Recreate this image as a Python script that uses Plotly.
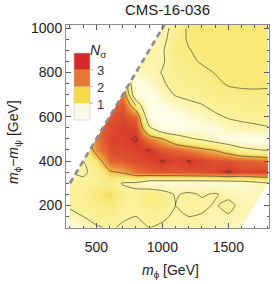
import plotly.graph_objects as go

# ---- data ----
m_phi = [300, 400, 500, 600, 700, 800, 900, 1000, 1100, 1200, 1300, 1400, 1500, 1600, 1700, 1800]
delta_m = [100, 150, 200, 250, 300, 350, 400, 450, 500, 550, 600, 650, 700, 750, 800, 850, 900, 950, 1000]

# N_sigma[row = delta_m][col = m_phi]
n_sigma = [
    [0.4, 0.6, 0.95, 1.05, 0.95, 0.85, 1.0, 0.9, 0.85, 0.95, 0.85, 0.8, 0.75, 0.7, 0.7, 0.7],
    [0.8, 1.0, 1.15, 1.25, 1.05, 1.0, 1.15, 1.1, 0.9, 1.0, 0.95, 0.85, 0.95, 0.8, 0.8, 0.8],
    [1.1, 1.2, 1.3, 1.5, 1.15, 1.05, 1.35, 1.3, 1.0, 1.05, 1.12, 0.95, 1.15, 0.85, 0.85, 0.85],
    [1.2, 1.1, 1.6, 1.75, 1.25, 1.1, 1.4, 1.25, 0.95, 1.1, 0.95, 1.05, 0.85, 0.75, 0.75, 0.75],
    [1.05, 1.15, 1.15, 1.35, 0.95, 0.9, 0.55, 0.5, 0.5, 0.5, 0.5, 0.5, 0.5, 0.6, 0.75, 0.95],
    [1.0, 0.9, 1.2, 1.9, 2.1, 2.5, 2.65, 2.7, 2.7, 2.75, 2.8, 2.85, 3.05, 2.85, 2.9, 2.9],
    [1.0, 1.0, 1.6, 2.6, 2.7, 2.8, 2.85, 3.03, 2.88, 3.02, 2.9, 2.8, 2.75, 2.65, 2.6, 2.5],
    [1.2, 1.2, 2.3, 2.8, 2.85, 2.9, 3.03, 2.75, 2.6, 2.4, 2.15, 1.95, 1.6, 1.2, 1.05, 0.95],
    [1.2, 1.2, 2.4, 2.9, 2.9, 3.04, 2.4, 2.0, 1.4, 1.1, 0.9, 0.6, 0.4, 0.3, 0.3, 0.3],
    [2.5, 2.5, 2.5, 2.8, 2.95, 2.85, 1.1, 0.3, 0.3, 0.35, 0.45, 0.5, 0.75, 0.85, 0.9, 0.97],
    [2.5, 2.5, 2.5, 2.75, 2.85, 2.6, 0.4, 0.2, 0.35, 0.55, 0.7, 0.9, 1.05, 1.12, 1.18, 1.2],
    [2.5, 2.5, 2.5, 2.6, 2.75, 1.5, 0.25, 0.4, 0.65, 0.85, 0.97, 1.15, 1.2, 1.25, 1.3, 1.3],
    [2.3, 2.3, 2.3, 2.3, 2.4, 0.5, 0.3, 0.7, 1.05, 1.15, 1.2, 1.3, 1.35, 1.4, 1.4, 1.4],
    [2.0, 2.0, 2.0, 2.0, 2.0, 0.35, 0.6, 0.95, 1.15, 1.25, 1.3, 1.4, 1.55, 1.58, 1.6, 1.58],
    [0.9, 0.9, 0.9, 0.9, 0.9, 0.65, 0.85, 1.02, 1.2, 1.3, 1.38, 1.52, 1.58, 1.6, 1.6, 1.6],
    [0.9, 0.9, 0.9, 0.9, 0.9, 0.9, 0.9, 0.95, 1.25, 1.4, 1.55, 1.58, 1.6, 1.6, 1.6, 1.6],
    [0.92, 0.92, 0.92, 0.92, 0.92, 0.92, 0.92, 0.93, 1.45, 1.48, 1.6, 1.6, 1.6, 1.6, 1.6, 1.6],
    [0.92, 0.92, 0.92, 0.92, 0.92, 0.92, 0.92, 0.85, 1.3, 1.55, 1.6, 1.6, 1.6, 1.6, 1.6, 1.6],
    [0.92, 0.92, 0.92, 0.92, 0.92, 0.92, 0.92, 0.9, 1.1, 1.6, 1.6, 1.6, 1.6, 1.6, 1.6, 1.6],
]

contour_levels = [1, 2, 3]
upper_level = 1.5          # extra contour drawn in the upper region only
upper_from = 650           # delta_m where the upper region starts

# physical domain of the scan
X_MIN, X_MAX = 300, 1800
M_PSI_MIN, M_PSI_MAX = 0, 1500

legend_ticks = [1, 2, 3]
legend_colors = ["rgb(250,250,230)", "rgb(245,218,75)", "rgb(226,120,52)", "rgb(213,40,42)"]

title = "CMS-16-036"
x_title = "<i>m</i><sub>ϕ</sub> [GeV]"
y_title = "<i>m</i><sub>ϕ</sub>−<i>m</i><sub>ψ</sub> [GeV]"
legend_title = "<i>N</i><sub>σ</sub>"

# ---- styling ----
FONT = "Liberation Sans, Arial, sans-serif"
XR = [270, 1808]
YR = [98, 1014]
W, H = 274, 284
ML, MR, MT, MB = 66, 5, 25, 56
PW, PH = W - ML - MR, H - MT - MB


def px_x(px):
    return (px - ML) / PW


def px_y(py):
    return (MT + PH - py) / PH


zmax = 3.5
cscale = [
    [0.0 / zmax, "rgb(255,255,247)"],
    [0.5 / zmax, "rgb(253,251,218)"],
    [1.0 / zmax, "rgb(250,242,160)"],
    [1.6 / zmax, "rgb(248,233,118)"],
    [2.0 / zmax, "rgb(241,182,72)"],
    [2.5 / zmax, "rgb(229,112,50)"],
    [3.0 / zmax, "rgb(215,55,42)"],
    [1.0, "rgb(200,32,36)"],
]

LINE = dict(color="rgba(60,60,40,0.85)", width=0.75, smoothing=0.6)

fig = go.Figure()

fig.add_trace(go.Heatmap(
    x=m_phi, y=delta_m, z=n_sigma, zmin=0, zmax=zmax, colorscale=cscale,
    zsmooth="best", showscale=False, hoverinfo="skip"))

fig.add_trace(go.Contour(
    x=m_phi, y=delta_m, z=n_sigma,
    contours=dict(start=contour_levels[0], end=contour_levels[-1], size=1, coloring="none"),
    line=LINE, showscale=False, hoverinfo="skip"))

i0 = delta_m.index(upper_from)
fig.add_trace(go.Contour(
    x=m_phi, y=delta_m[i0:], z=n_sigma[i0:],
    contours=dict(start=upper_level, end=upper_level, size=1, coloring="none"),
    line=LINE, showscale=False, hoverinfo="skip"))

# white masks outside the scanned domain
lo_x, hi_x, lo_y, hi_y = XR[0] - 30, XR[1] + 30, YR[0] - 30, YR[1] + 30
fig.add_trace(go.Scatter(
    x=[lo_x, X_MIN, X_MIN, hi_y + M_PSI_MIN, lo_x],
    y=[lo_y, lo_y, X_MIN - M_PSI_MIN, hi_y, hi_y],
    fill="toself", fillcolor="white", mode="lines", line=dict(width=0),
    hoverinfo="skip"))
fig.add_trace(go.Scatter(
    x=[lo_y + M_PSI_MAX, X_MAX, X_MAX, hi_x, hi_x],
    y=[lo_y, X_MAX - M_PSI_MAX, hi_y, hi_y, lo_y],
    fill="toself", fillcolor="white", mode="lines", line=dict(width=0),
    hoverinfo="skip"))

# kinematic boundary m_psi = 0
fig.add_trace(go.Scatter(
    x=[X_MIN, hi_y + M_PSI_MIN], y=[X_MIN - M_PSI_MIN, hi_y],
    mode="lines", line=dict(color="rgb(140,140,140)", width=2.6, dash="6px,4px"),
    hoverinfo="skip"))

# discrete N_sigma legend (swatches + labels)
bar_top, bar_bot, bar_left, bar_w = 53, 120, 74, 16
n = len(legend_colors)
step = (bar_bot - bar_top) / n
shapes = []
for i, c in enumerate(legend_colors):
    y0 = bar_bot - i * step
    y1 = bar_bot - (i + 1) * step
    shapes.append(dict(type="rect", xref="paper", yref="paper",
                       x0=px_x(bar_left), x1=px_x(bar_left + bar_w),
                       y0=px_y(y0), y1=px_y(y1), fillcolor=c,
                       line=dict(width=0), layer="above"))
shapes.append(dict(type="rect", xref="paper", yref="paper",
                   x0=px_x(bar_left), x1=px_x(bar_left + bar_w),
                   y0=px_y(bar_bot), y1=px_y(bar_top), fillcolor="rgba(0,0,0,0)",
                   line=dict(width=0.6, color="rgb(200,200,200)"), layer="above"))
for t in legend_ticks:
    yy = bar_bot - t * step
    shapes.append(dict(type="line", xref="paper", yref="paper",
                       x0=px_x(bar_left + bar_w), x1=px_x(bar_left + bar_w + 3),
                       y0=px_y(yy), y1=px_y(yy),
                       line=dict(width=0.8, color="rgb(170,170,170)"), layer="above"))
    fig.add_annotation(text=str(t), xref="paper", yref="paper",
                       x=px_x(bar_left + bar_w + 5), y=px_y(yy + 1), xanchor="left",
                       yanchor="middle", showarrow=False,
                       font=dict(family=FONT, size=13, color="#333"))

fig.add_annotation(text=legend_title, xref="paper", yref="paper",
                   x=px_x(88), y=px_y(40), showarrow=False,
                   font=dict(family=FONT, size=14, color="#222"))

fig.add_annotation(text=x_title, xref="paper", yref="paper",
                   x=px_x(170), y=px_y(271), showarrow=False,
                   yanchor="middle", font=dict(family=FONT, size=14, color="#222"))
fig.add_annotation(text=y_title, xref="paper", yref="paper", textangle=-90,
                   x=px_x(14), y=px_y(142), showarrow=False,
                   xanchor="center", yanchor="middle",
                   font=dict(family=FONT, size=14, color="#222"))

axis_common = dict(showgrid=False, zeroline=False, showline=True, linecolor="rgb(140,140,140)",
                   linewidth=1, mirror="ticks", ticks="inside", ticklen=5, tickwidth=1,
                   tickcolor="rgb(90,90,90)", tickfont=dict(family=FONT, size=14, color="#222"))

fig.update_layout(
    width=W, height=H, margin=dict(l=ML, r=MR, t=MT, b=MB, autoexpand=False),
    paper_bgcolor="white", plot_bgcolor="white", showlegend=False, shapes=shapes,
    hovermode=False,
    title=dict(text=title, x=167.5 / W, xanchor="center", y=1 - 10 / H, yanchor="middle",
               font=dict(family=FONT, size=15, color="#222")),
    xaxis=dict(range=XR, tick0=0, dtick=500, ticklabelstandoff=6,
               minor=dict(ticks="inside", ticklen=2.5, dtick=100, tick0=0,
                          tickcolor="rgb(90,90,90)", showgrid=False),
               **axis_common),
    yaxis=dict(range=YR, tick0=0, dtick=200,
               minor=dict(ticks="inside", ticklen=2.5, dtick=50, tick0=0,
                          tickcolor="rgb(90,90,90)", showgrid=False),
               **axis_common),
)

fig.write_html("out.html", config={"displayModeBar": False, "staticPlot": True},
               post_script="document.body.style.margin='0px';")
